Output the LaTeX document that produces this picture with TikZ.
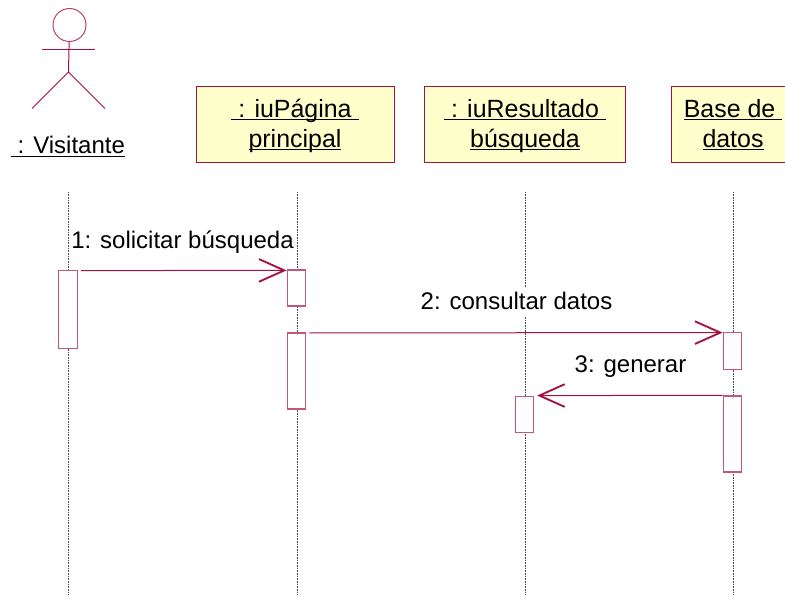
\documentclass[tikz,border=0pt]{standalone}
\usepackage{fontspec}
\setmainfont{Liberation Sans}
\usepackage{xcolor}
\usetikzlibrary{arrows.meta}
\definecolor{umlline}{HTML}{A5123F}
\definecolor{umlfill}{HTML}{FFFFCB}
\newcommand{\ULine}[1]{\underline{\smash{\hbox{#1}}}}
\newcommand{\ObjText}[2]{\rule{0pt}{12.8pt}\ULine{#1}\\\ULine{#2}}

\begin{document}
\begin{tikzpicture}[x=0.75pt, y=-0.75pt]
\useasboundingbox (0,0) rectangle (785,595);
\clip (0,0) rectangle (785,595);
\tikzset{ObjStyle/.style={draw=umlline, fill=umlfill, line width=0.75pt, minimum height=57pt, align=center, inner sep=0pt, font=\fontsize{18.7}{22.7}\selectfont}}
\tikzset{ActStyle/.style={draw=umlline!70, fill=white, line width=0.9pt, minimum width=14pt, inner sep=0pt}}
\tikzset{LifeStyle/.style={black!70, line width=0.6pt, dash pattern=on 0.6pt off 0.6pt}}
\tikzset{MsgStyle/.style={umlline, line width=0.75pt, -{Straight Barb[length=19pt, width=17pt, line width=1.4pt]}}}
\tikzset{LabelStyle/.style={inner sep=1pt, anchor=base, font=\fontsize{18}{20}\selectfont}}
\node[ObjStyle, minimum width=148.5pt] (p) at (295,125) {\ObjText{\ : iuPágina\ }{principal}};
\node[ObjStyle, minimum width=150.5pt] (r) at (525,125) {\ObjText{\ : iuResultado\ }{búsqueda}};
\node[ObjStyle, minimum width=93pt] (b) at (733,125) {\ObjText{Base de\ }{datos}};
\node[LabelStyle] (vn) at (68,154) {\ULine{\ : Visitante}};
\coordinate (v) at (68.5,192);
\coordinate (pt) at (297.5,192);
\coordinate (rt) at (525.5,192);
\coordinate (bt) at (733,192);
\coordinate (ve) at (68.5,595);
\coordinate (pe) at (297.5,595);
\coordinate (re) at (525.5,595);
\coordinate (be) at (733,595);
\draw[LifeStyle] (v) -- (ve);
\draw[LifeStyle] (pt) -- (pe);
\draw[LifeStyle] (rt) -- (re);
\draw[LifeStyle] (bt) -- (be);
\node[ActStyle, minimum height=59pt] (va) at (68,309.5) {};
\node[ActStyle, minimum height=27pt] (pa) at (296.5,288) {};
\node[ActStyle, minimum height=57pt] (pb) at (296.5,371) {};
\node[ActStyle, minimum height=27.5pt] (ba) at (732.5,351) {};
\node[ActStyle, minimum height=57pt] (bb) at (732.5,434) {};
\node[ActStyle, minimum height=27.5pt] (ra) at (524.5,414.5) {};
\node[draw=umlline!80, line width=0.75pt, circle, minimum size=24.75pt, inner sep=0pt] (head) at (69.5,25) {};
\coordinate (hip) at (68.5,72);
\coordinate (arml) at (42,50);
\coordinate (armr) at (94.5,50);
\coordinate (legl) at (32,108.5);
\coordinate (legr) at (105,108.5);
\draw[umlline, line width=0.75pt] (head) -- (hip);
\draw[umlline, line width=0.75pt] (arml) -- (armr);
\draw[umlline, line width=0.75pt] (legl) -- (hip) -- (legr);
\draw[MsgStyle] ([shift={(3,1)}]va.north east) -- ([yshift=-0.75pt]pa.north west);
\draw[MsgStyle] ([shift={(3,0.5)}]pb.north east) -- ([yshift=-0.4pt]ba.north west);
\draw[MsgStyle] (bb.north west) -- ([xshift=2pt]ra.north east);
\node[LabelStyle] (m) at (182.5,248) {1: solicitar búsqueda};
\node[LabelStyle, fill=white, text height=16.25pt, text depth=3.5pt] (c) at (516.5,310) {2: consultar datos};
\node[LabelStyle] (g) at (630.5,372) {3: generar};
\end{tikzpicture}
\end{document}
